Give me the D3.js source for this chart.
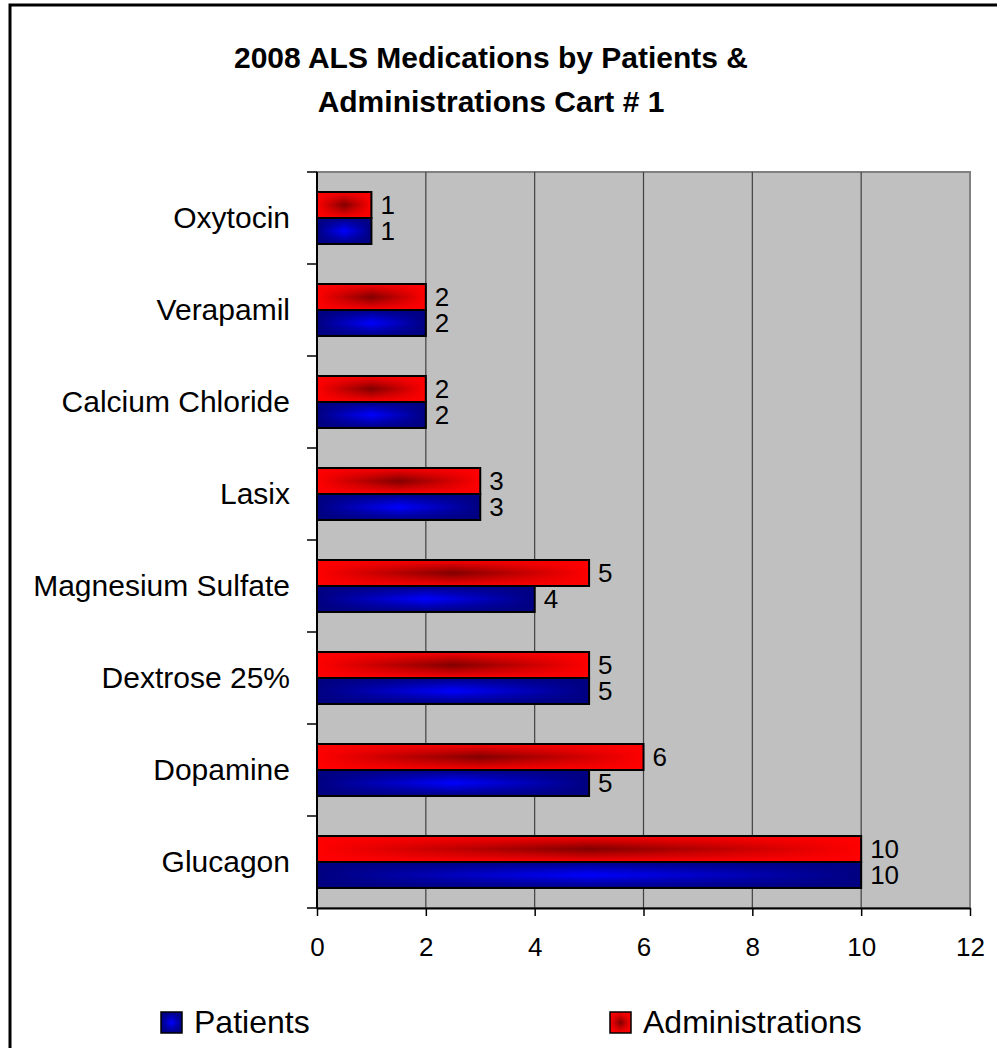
<!DOCTYPE html>
<html>
<head>
<meta charset="utf-8">
<script src="https://cdn.jsdelivr.net/npm/d3@7"></script>
<style>
body{margin:0;background:#fff;}
svg{display:block;font-family:"Liberation Sans",Arial,sans-serif;}
</style>
</head>
<body>
<svg id="chart" width="997" height="1048"></svg>
<script>
var titleLines = ["2008 ALS Medications by Patients &", "Administrations Cart # 1"];
var categories = ["Oxytocin","Verapamil","Calcium Chloride","Lasix","Magnesium Sulfate","Dextrose 25%","Dopamine","Glucagon"];
var patients = [1,2,2,3,4,5,5,10];
var administrations = [1,2,2,3,5,5,6,10];
var seriesNames = ["Administrations","Patients"];
var xTicks = [0,2,4,6,8,10,12];

var plot = {left:317, top:172, right:970, bottom:908};
var svg = d3.select("#chart");

// 外框
svg.append("rect")
    .attr("x",10).attr("y",5)
    .attr("width",1100).attr("height",1100)
    .attr("fill","#fff")
    .attr("stroke","#000")
    .attr("stroke-width",3);

var x = d3.scaleLinear().domain([0,12]).range([plot.left,plot.right]);
var y = d3.scaleBand().domain(categories)
    .range([plot.top,plot.bottom])
    .paddingInner(0.435).paddingOuter(0.2175);
var ys = d3.scaleBand().domain(seriesNames).range([0,y.bandwidth()]);

/**
 * 矩形渐变：竖向渐变打底，横向半透明渐变盖在上面
 */
var defs = svg.append("defs");
var grads = {
    Administrations:{edge:"#ff0000",center:"#800000"},
    Patients:{edge:"#000080",center:"#0000ff"}
};
seriesNames.forEach(function(name){
    var g = grads[name];
    var v = defs.append("linearGradient").attr("id","v-"+name)
        .attr("x1",0).attr("y1",0).attr("x2",0).attr("y2",1);
    v.append("stop").attr("offset","0%").attr("stop-color",g.edge);
    v.append("stop").attr("offset","50%").attr("stop-color",g.center);
    v.append("stop").attr("offset","100%").attr("stop-color",g.edge);
    var h = defs.append("linearGradient").attr("id","h-"+name)
        .attr("x1",0).attr("y1",0).attr("x2",1).attr("y2",0);
    h.append("stop").attr("offset","0%").attr("stop-color",g.edge).attr("stop-opacity",1);
    h.append("stop").attr("offset","50%").attr("stop-color",g.edge).attr("stop-opacity",0);
    h.append("stop").attr("offset","100%").attr("stop-color",g.edge).attr("stop-opacity",1);
});

// 标题
svg.append("text")
    .attr("text-anchor","middle")
    .style("font-size","30px").style("font-weight","bold")
    .selectAll("tspan").data(titleLines).enter()
    .append("tspan")
    .attr("x",491)
    .attr("y",function(d,i){return 68+i*44;})
    .text(function(d){return d;});

// 绘图区
svg.append("rect")
    .attr("x",plot.left).attr("y",plot.top)
    .attr("width",plot.right-plot.left).attr("height",plot.bottom-plot.top)
    .attr("fill","#c0c0c0")
    .attr("stroke","#808080")
    .attr("stroke-width",2);

svg.append("g").selectAll("line")
    .data(xTicks.slice(1,-1)).enter()
    .append("line")
    .attr("x1",function(d){return x(d);}).attr("x2",function(d){return x(d);})
    .attr("y1",plot.top).attr("y2",plot.bottom)
    .attr("stroke","#404040").attr("stroke-width",1.2);

// 柱子
var rows = categories.map(function(c,i){
    return {cat:c, values:[
        {name:"Administrations", value:administrations[i]},
        {name:"Patients", value:patients[i]}
    ]};
});
var bars = svg.append("g").selectAll("g")
    .data(rows).enter()
    .append("g")
    .attr("transform",function(d){return "translate(0,"+y(d.cat)+")";})
    .selectAll("g").data(function(d){return d.values;}).enter()
    .append("g");

bars.append("rect")
    .attr("x",x(0)).attr("y",function(d){return ys(d.name);})
    .attr("width",function(d){return x(d.value)-x(0);})
    .attr("height",ys.bandwidth())
    .attr("fill",function(d){return "url(#v-"+d.name+")";});
bars.append("rect")
    .attr("x",x(0)).attr("y",function(d){return ys(d.name);})
    .attr("width",function(d){return x(d.value)-x(0);})
    .attr("height",ys.bandwidth())
    .attr("fill",function(d){return "url(#h-"+d.name+")";})
    .attr("stroke","#000").attr("stroke-width",2);

bars.append("text")
    .attr("x",function(d){return x(d.value)+9;})
    .attr("y",function(d){return ys(d.name)+ys.bandwidth()/2+9;})
    .style("font-size","26px")
    .text(function(d){return d.value;});

// 坐标轴
var xAxis = svg.append("g")
    .attr("transform","translate(0,"+plot.bottom+")")
    .call(d3.axisBottom(x).tickValues(xTicks).tickSize(8).tickPadding(22).tickSizeOuter(0));
xAxis.select(".domain").attr("stroke","#000").attr("stroke-width",2);
xAxis.selectAll(".tick line").attr("stroke","#000").attr("stroke-width",1.5);
xAxis.selectAll("text").style("font-size","26px").attr("fill","#000")
    .style("font-family","Liberation Sans, Arial, sans-serif");

svg.append("line")
    .attr("x1",plot.left).attr("x2",plot.left)
    .attr("y1",plot.top).attr("y2",plot.bottom)
    .attr("stroke","#000").attr("stroke-width",2);
var bounds = d3.range(categories.length+1).map(function(i){return plot.top+i*y.step();});
svg.append("g").selectAll("line")
    .data(bounds).enter()
    .append("line")
    .attr("x1",plot.left-10).attr("x2",plot.left)
    .attr("y1",function(d){return d;}).attr("y2",function(d){return d;})
    .attr("stroke","#000").attr("stroke-width",1.5);

svg.append("g").selectAll("text")
    .data(categories).enter()
    .append("text")
    .attr("x",plot.left-27)
    .attr("y",function(d){return y(d)+y.bandwidth()/2+10;})
    .attr("text-anchor","end")
    .style("font-size","30px")
    .text(function(d){return d;});

// 图例
var legend = [{name:"Patients",x:161},{name:"Administrations",x:610}];
var lg = svg.append("g").selectAll("g")
    .data(legend).enter()
    .append("g");
lg.append("rect")
    .attr("x",function(d){return d.x;}).attr("y",1012)
    .attr("width",21).attr("height",21)
    .attr("fill",function(d){return "url(#v-"+d.name+")";});
lg.append("rect")
    .attr("x",function(d){return d.x;}).attr("y",1012)
    .attr("width",21).attr("height",21)
    .attr("fill",function(d){return "url(#h-"+d.name+")";})
    .attr("stroke","#000").attr("stroke-width",1.5);
lg.append("text")
    .attr("x",function(d){return d.x+33;}).attr("y",1033)
    .style("font-size","32px")
    .text(function(d){return d.name;});
</script>
</body>
</html>
